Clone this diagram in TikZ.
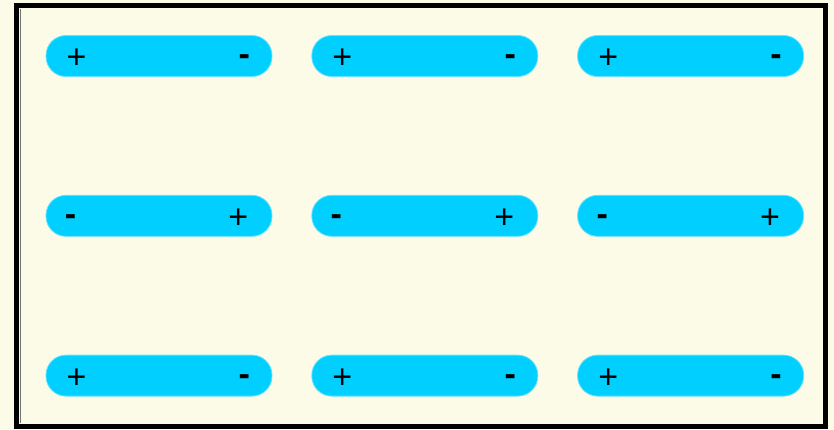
\documentclass[tikz,border=0pt]{standalone}
\usepackage{fontspec}
\setmainfont{Liberation Sans}
\usetikzlibrary{positioning}
\definecolor{bgcream}{RGB}{251,251,231}
\definecolor{pillcyan}{RGB}{0,207,255}
\tikzset{
  pill/.style={fill=pillcyan, draw=pillcyan!60, line width=0.8pt, rounded corners=20pt, minimum width=226pt, minimum height=41pt, inner sep=0pt},
  plussign/.style={inner sep=0pt, yshift=-3pt, font=\fontsize{34}{34}\selectfont},
  minussign/.style={inner sep=0pt, yshift=-4.5pt, font=\fontsize{34}{34}\selectfont\bfseries}
}
\begin{document}
\begin{tikzpicture}[x=1pt, y=-1pt, node distance=39pt]
  \fill[bgcream] (0,0) rectangle (834,429);
  \useasboundingbox (0,0) rectangle (834,429);
  \draw[black, line width=5pt] (16.5,5.5) rectangle (825.5,426.5);
  \draw[black!55, line width=1pt] (20,9) -- (20,423);
  % row 1
  \node[pill] (p11) at (159,56) {};
  \node[pill, right=of p11] (p12) {};
  \node[pill, right=of p12] (p13) {};
  % row 2
  \node[pill, below=118pt of p11] (p21) {};
  \node[pill, right=of p21] (p22) {};
  \node[pill, right=of p22] (p23) {};
  % row 3
  \node[pill, below=118pt of p21] (p31) {};
  \node[pill, right=of p31] (p32) {};
  \node[pill, right=of p32] (p33) {};
  % signs
  \node[plussign] (p11l) at ([xshift=31pt]p11.west) {+};
  \node[minussign] (p11r) at ([xshift=-28pt]p11.east) {-};
  \node[plussign] (p12l) at ([xshift=31pt]p12.west) {+};
  \node[minussign] (p12r) at ([xshift=-28pt]p12.east) {-};
  \node[plussign] (p13l) at ([xshift=31pt]p13.west) {+};
  \node[minussign] (p13r) at ([xshift=-28pt]p13.east) {-};
  \node[minussign] (p21l) at ([xshift=25pt]p21.west) {-};
  \node[plussign] (p21r) at ([xshift=-34pt]p21.east) {+};
  \node[minussign] (p22l) at ([xshift=25pt]p22.west) {-};
  \node[plussign] (p22r) at ([xshift=-34pt]p22.east) {+};
  \node[minussign] (p23l) at ([xshift=25pt]p23.west) {-};
  \node[plussign] (p23r) at ([xshift=-34pt]p23.east) {+};
  \node[plussign] (p31l) at ([xshift=31pt]p31.west) {+};
  \node[minussign] (p31r) at ([xshift=-28pt]p31.east) {-};
  \node[plussign] (p32l) at ([xshift=31pt]p32.west) {+};
  \node[minussign] (p32r) at ([xshift=-28pt]p32.east) {-};
  \node[plussign] (p33l) at ([xshift=31pt]p33.west) {+};
  \node[minussign] (p33r) at ([xshift=-28pt]p33.east) {-};
\end{tikzpicture}
\end{document}
